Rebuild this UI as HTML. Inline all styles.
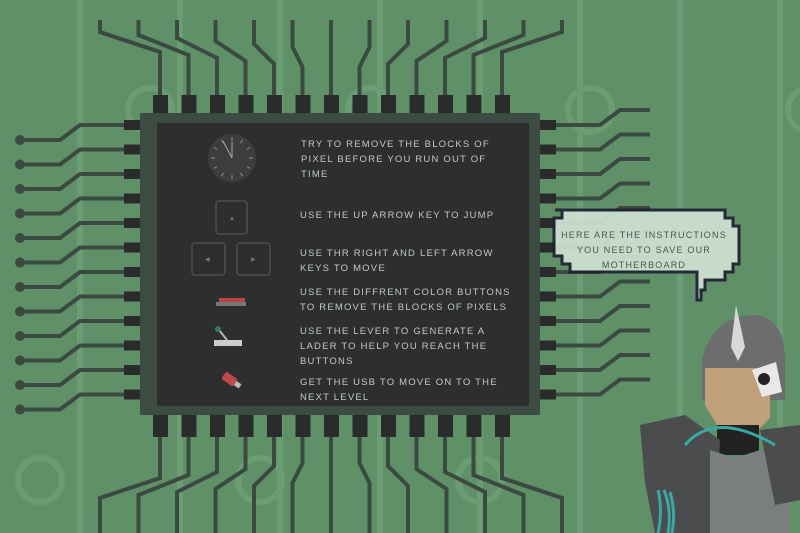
<!DOCTYPE html>
<html><head><meta charset="utf-8">
<style>
body{margin:0;width:800px;height:533px;overflow:hidden;background:#5f9068;font-family:"Liberation Sans",sans-serif}
#bg{position:absolute;left:0;top:0}
.t{position:absolute;color:#c3c9c5;font-size:9.5px;letter-spacing:1.2px;line-height:15px;text-transform:uppercase}
</style></head><body>
<svg id="bg" width="800" height="533">
<g id="faint" stroke="#6f9f78" stroke-width="6" fill="none" opacity="0.8"></g>
<g id="traces" stroke="#3b4a40" stroke-width="4" fill="none"></g>
<g id="pins" fill="#2a2c2b"></g>
<rect x="140" y="113" width="400" height="302" fill="#3c4c42"/>
<rect x="157" y="123" width="372" height="283" fill="#2d2e2e"/>
<g>
<circle cx="232" cy="158" r="24" fill="#3c3d3d"/>
<g id="ticks" stroke="#8a8f8c" stroke-width="1"></g>
<line x1="232" y1="158" x2="223" y2="141" stroke="#aaa" stroke-width="1"/>
<line x1="232" y1="158" x2="232" y2="142" stroke="#aaa" stroke-width="1"/>
</g>
<rect x="216" y="201" width="31" height="33" rx="3" fill="none" stroke="#4d4f4e" stroke-width="1.5"/>
<rect x="192" y="243" width="33" height="32" rx="3" fill="none" stroke="#4d4f4e" stroke-width="1.5"/>
<rect x="237" y="243" width="33" height="32" rx="3" fill="none" stroke="#4d4f4e" stroke-width="1.5"/>
<text x="229" y="220" fill="#777" font-size="6">▲</text><text x="205" y="261" fill="#777" font-size="6">◀</text><text x="251" y="261" fill="#777" font-size="6">▶</text>
<g><rect x="219" y="298" width="26" height="4" fill="#b84545"/><rect x="216" y="302" width="30" height="4" fill="#777"/></g>
<g><rect x="214" y="340" width="28" height="6" fill="#ccc"/><line x1="227" y1="340" x2="219" y2="330" stroke="#bbb" stroke-width="2"/><circle cx="218" cy="329" r="3" fill="#3a7a5a"/></g>
<g transform="rotate(35 230 380)"><rect x="222" y="375" width="14" height="9" rx="2" fill="#c04848"/><rect x="236" y="377" width="6" height="5" fill="#bbb"/></g>
<path d="M555 210h170v8h8v8h6v38h-6v8h-8v8h-20v10h-4v10h-4v-28H570v-8h-8v-8h-8v-38h8v-8h-7z" fill="#cfe1d2" stroke="#223" stroke-width="3" opacity="0.93"/>
<g>
<path d="M702 360q10-45 55-45q28 5 28 45v40h-83z" fill="#6c6e6e"/>
<path d="M736 305l9 42-7 14-7-14z" fill="#d8d8d8"/>
<path d="M705 368h65v50l-12 12h-38l-15-25z" fill="#bfa07a"/>
<path d="M752 370l24-8 6 30-20 5z" fill="#e8e8e8"/><circle cx="764" cy="379" r="6" fill="#222"/>
<rect x="717" y="425" width="42" height="30" fill="#222"/>
<path d="M640 425l45-10 35 25-5 93h-60l-10-50z" fill="#4a4c4d"/>
<path d="M710 450l25 8 25-8 30 10v73h-80z" fill="#7a7e7e"/>
<path d="M760 430l40-5v75l-25 5z" fill="#4a4c4d"/>
<path d="M658 490q5 20 0 43M664 490q8 20 4 43M670 492q6 20 2 41" stroke="#3aa8a4" stroke-width="3" fill="none"/>
<path d="M685 445q30-35 90 0" stroke="#3aa8a4" stroke-width="3" fill="none"/>
</g>
</svg>
<div class="t" style="left:301px;top:137px">Try to remove the blocks of<br>pixel before you run out of<br>time</div>
<div class="t" style="left:300px;top:208px">Use the up arrow key to jump</div>
<div class="t" style="left:300px;top:246px">Use thr right and left arrow<br>keys to move</div>
<div class="t" style="left:300px;top:285px">Use the diffrent color buttons<br>to remove the blocks of pixels</div>
<div class="t" style="left:300px;top:324px">Use the lever to generate a<br>lader to help you reach the<br>buttons</div>
<div class="t" style="left:300px;top:375px">Get the usb to move on to the<br>next level</div>
<div class="t" style="left:552px;top:228px;width:184px;text-align:center;color:#4a5550;font-size:9px">Here are the instructions<br>you need to save our<br>motherboard</div>
<script>
const NS='http://www.w3.org/2000/svg';
function mk(tag,attrs,parent){const e=document.createElementNS(NS,tag);for(const k in attrs)e.setAttribute(k,attrs[k]);parent.appendChild(e);return e;}
const pins=document.getElementById('pins'),tr=document.getElementById('traces'),fa=document.getElementById('faint');
for(let i=0;i<13;i++){const x=153+i*28.5;
 mk('rect',{x:x,y:95,width:15,height:18},pins);mk('rect',{x:x,y:415,width:15,height:22},pins);
 const dx=(i-6)*10;
 mk('path',{d:`M${x+7} 95 V${70-Math.abs(i-6)*3} L${x+7+dx} ${50-Math.abs(i-6)*3} V${20}`},tr);
 mk('path',{d:`M${x+7} 437 V${460+Math.abs(i-6)*3} L${x+7+dx} ${480+Math.abs(i-6)*3} V533`},tr);}
for(let i=0;i<12;i++){const y=120+i*24.5;
 mk('rect',{x:124,y:y,width:18,height:10},pins);mk('rect',{x:538,y:y,width:18,height:10},pins);
 mk('path',{d:`M124 ${y+5} H80 L60 ${y+20} H20`},tr);
 mk('path',{d:`M556 ${y+5} H600 L620 ${y-10} H650`},tr);
 mk('circle',{cx:20,cy:y+20,r:5,fill:'#3b4a40',stroke:'none'},tr);}
for(let i=0;i<8;i++){mk('circle',{cx:40+i*110,cy:i%2?110:480,r:22},fa);mk('line',{x1:80+i*100,y1:0,x2:80+i*100,y2:533},fa);}
const tk=document.getElementById('ticks');
for(let i=0;i<12;i++){const a=i*Math.PI/6;mk('line',{x1:232+17*Math.cos(a),y1:158+17*Math.sin(a),x2:232+21*Math.cos(a),y2:158+21*Math.sin(a)},tk);}
</script>
</body></html>
